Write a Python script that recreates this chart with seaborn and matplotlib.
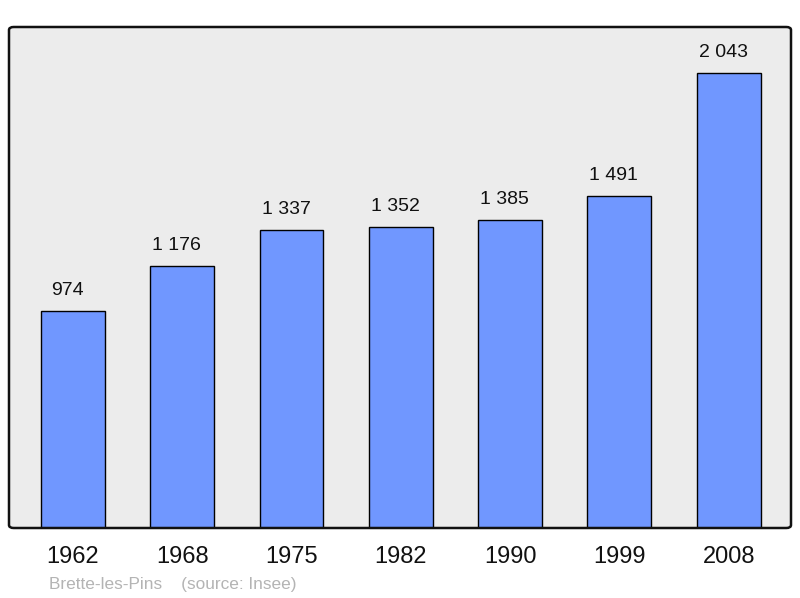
import matplotlib
matplotlib.use("Agg")
import matplotlib.pyplot as plt
import seaborn as sns
import pandas as pd
from matplotlib.patches import FancyBboxPatch

years = ["1962", "1968", "1975", "1982", "1990", "1999", "2008"]
population = [974, 1176, 1337, 1352, 1385, 1491, 2043]
value_labels = ["974", "1 176", "1 337", "1 352", "1 385", "1 491", "2 043"]

sns.set_style("white")
plt.rcParams['font.family'] = ['Liberation Sans', 'DejaVu Sans']

df = pd.DataFrame({"year": years, "pop": population})

fig = plt.figure(figsize=(8, 5.98), dpi=100)
ax = fig.add_axes([9 / 800, 1 - 528 / 598, 782 / 800, 501 / 598])
ax.set_facecolor("#ececec")

sns.barplot(data=df, x="year", y="pop", color="#7097ff", saturation=1,
            width=0.585, edgecolor="black", linewidth=1.0, ax=ax, zorder=3)

# labels sit a little left of the bar centre, as in the original
for i, (v, lab) in enumerate(zip(population, value_labels)):
    ax.annotate(lab, (i, v), xytext=(-4, 8.5), textcoords="offset points",
                ha="center", va="bottom", fontsize=14, color="#111111")

ax.set_xlim(-0.585, 6.57)
ax.set_ylim(0, 2250)
ax.set_yticks([])
ax.set_xlabel("")
ax.set_ylabel("")
ax.tick_params(axis="x", length=0, labelsize=17, pad=13, colors="#111111")

for s in ax.spines.values():
    s.set_visible(False)
frame = FancyBboxPatch((0, 0), 1, 1, boxstyle="round,pad=0,rounding_size=0.006",
                       transform=ax.transAxes, facecolor="none",
                       edgecolor="#111111", linewidth=1.8, zorder=5, clip_on=False)
ax.add_patch(frame)

fig.text(49 / 800, 1 - 584 / 598, "Brette-les-Pins    (source: Insee)",
         fontsize=12.4, color="#b4b4b4", ha="left", va="center")

fig.savefig("out.png", dpi=100)
